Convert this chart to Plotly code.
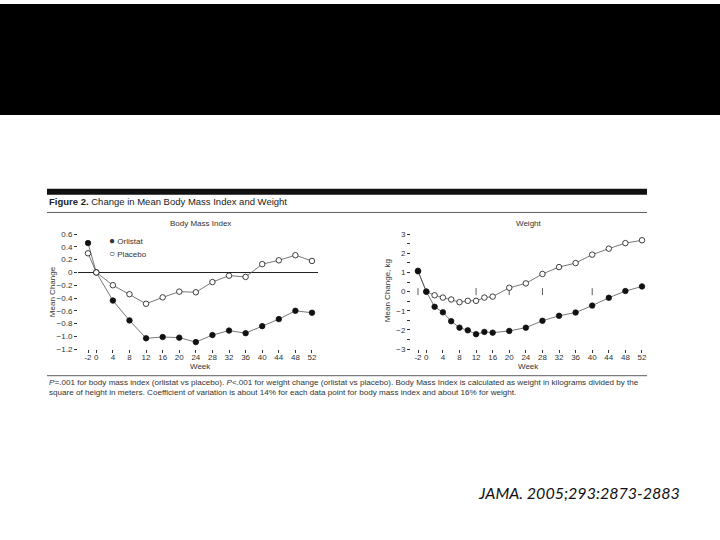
import plotly.graph_objects as go

# ---------------- data ----------------
bmi_weeks = [-2, 0, 4, 8, 12, 16, 20, 24, 28, 32, 36, 40, 44, 48, 52]
bmi_orlistat = [0.46, 0.0, -0.44, -0.75, -1.03, -1.01, -1.02, -1.09, -0.98, -0.91, -0.95, -0.84, -0.73, -0.60, -0.63]
bmi_placebo = [0.30, 0.0, -0.20, -0.34, -0.49, -0.39, -0.30, -0.31, -0.15, -0.05, -0.07, 0.13, 0.19, 0.27, 0.18]

wt_weeks = [-2, 0, 2, 4, 6, 8, 10, 12, 14, 16, 20, 24, 28, 32, 36, 40, 44, 48, 52]
wt_orlistat = [1.06, 0.0, -0.79, -1.08, -1.54, -1.88, -2.02, -2.22, -2.10, -2.14, -2.05, -1.88, -1.52, -1.26, -1.09, -0.73, -0.32, 0.03, 0.27]
wt_placebo = [1.09, 0.0, -0.19, -0.31, -0.41, -0.55, -0.48, -0.48, -0.31, -0.26, 0.20, 0.43, 0.92, 1.28, 1.49, 1.93, 2.24, 2.53, 2.68]
wt_zero_ticks = [-2, 12, 20, 28, 40]

x_tickvals = [-2, 0, 4, 8, 12, 16, 20, 24, 28, 32, 36, 40, 44, 48, 52]
x_ticktext = ["-2", "0", "4", "8", "12", "16", "20", "24", "28", "32", "36", "40", "44", "48", "52"]
bmi_tickvals = [0.6, 0.4, 0.2, 0, -0.2, -0.4, -0.6, -0.8, -1.0, -1.2]
bmi_ticktext = ["0.6", "0.4", "0.2", "0", "\u22120.2", "\u22120.4", "\u22120.6", "\u22120.8", "\u22121.0", "\u22121.2"]
wt_tickvals = [3, 2, 1, 0, -1, -2, -3]
wt_ticktext = ["3", "2", "1", "0", "\u22121", "\u22122", "\u22123"]
legend_labels = ["Orlistat", "Placebo"]

W, H = 720, 540
def px(p): return p / W
def py(p): return 1 - p / H

FONT = "Liberation Sans, Arial, sans-serif"
LINE_C = "#555555"
TXT_C = "#333333"

fig = go.Figure()

def add_series(x, y, filled, xa, ya, name):
    fig.add_trace(go.Scatter(
        x=x, y=y, mode="lines+markers", name=name, showlegend=False,
        xaxis=xa, yaxis=ya, cliponaxis=False,
        line=dict(color=LINE_C, width=0.8),
        marker=dict(size=5.5, symbol="circle",
                    color="#111111" if filled else "white",
                    line=dict(color="#111111", width=0.8)),
    ))

add_series(bmi_weeks, bmi_orlistat, True, "x", "y", legend_labels[0])
add_series(bmi_weeks, bmi_placebo, False, "x", "y", legend_labels[1])
fig.add_trace(go.Scatter(
    x=wt_zero_ticks, y=[0] * len(wt_zero_ticks), mode="markers", showlegend=False,
    xaxis="x2", yaxis="y2", hoverinfo="skip",
    marker=dict(symbol="line-ns", size=5, line=dict(color=TXT_C, width=0.8))))
add_series(wt_weeks, wt_placebo, False, "x2", "y2", legend_labels[1])
add_series(wt_weeks, wt_orlistat, True, "x2", "y2", legend_labels[0])

tickfont = dict(family=FONT, size=8, color=TXT_C)
common_x = dict(range=[-4.41, 53.45], tickvals=x_tickvals, ticktext=x_ticktext,
                showgrid=False, zeroline=False, showline=False, tickangle=0,
                ticks="outside", ticklen=3, tickwidth=0.8, tickcolor=TXT_C,
                ticklabelstandoff=-3,
                tickfont=tickfont, fixedrange=True)

fig.update_layout(
    width=W, height=H,
    margin=dict(l=0, r=0, t=0, b=0),
    paper_bgcolor="white", plot_bgcolor="rgba(0,0,0,0)",
    font=dict(family=FONT, color=TXT_C),
    showlegend=False,
    xaxis=dict(domain=[px(78), px(318)], anchor="y", **common_x),
    yaxis=dict(domain=[py(351), py(234)], range=[-1.2, 0.6], anchor="x",
               tickvals=bmi_tickvals, ticktext=bmi_ticktext,
               showgrid=False, showline=False,
               zeroline=True, zerolinecolor="#222222", zerolinewidth=1,
               ticks="outside", ticklen=3, tickwidth=0.8, tickcolor=TXT_C,
               tickfont=tickfont, fixedrange=True),
    xaxis2=dict(domain=[px(411), px(648)], anchor="y2", **{**common_x, "range": [-3.69, 53.45]}),
    yaxis2=dict(domain=[py(351), py(234)], range=[-3, 3], anchor="x2",
                tickvals=wt_tickvals, ticktext=wt_ticktext,
                showgrid=False, showline=False, zeroline=False,
                ticks="outside", ticklen=3, tickwidth=0.8, tickcolor=TXT_C,
                minor=dict(dtick=0.5, ticks="outside", ticklen=3, tickwidth=0.8, tickcolor=TXT_C),
                tickfont=tickfont, fixedrange=True),
)

shapes = [
    dict(type="rect", xref="paper", yref="paper", x0=0, x1=1, y0=py(113), y1=1,
         fillcolor="black", line=dict(width=0), layer="below"),
    dict(type="rect", xref="paper", yref="paper", x0=px(47), x1=px(647), y0=py(194), y1=py(188),
         fillcolor="#111111", line=dict(width=0)),
    dict(type="line", xref="paper", yref="paper", x0=px(47), x1=px(647), y0=py(212), y1=py(212),
         line=dict(color="#333333", width=0.8)),
    dict(type="line", xref="paper", yref="paper", x0=px(47), x1=px(647), y0=py(378), y1=py(378),
         line=dict(color="#333333", width=0.8)),
]
fig.update_layout(shapes=shapes)

def ann(text, x, y, size, xanchor="center", angle=0, color=TXT_C, family=FONT):
    fig.add_annotation(text=text, x=px(x), y=py(y), xref="paper", yref="paper",
                       xanchor=xanchor, yanchor="middle", showarrow=False, textangle=angle,
                       font=dict(family=family, size=size, color=color))

ann("<b>Figure 2.</b> Change in Mean Body Mass Index and Weight", 47, 201, 9.5, xanchor="left", color="#222222")
ann("Body Mass Index", 200, 223, 8)
ann("Weight", 529, 223, 8)
ann("Mean Change", 52, 292, 8, angle=-90)
ann("Mean Change, kg", 387, 292, 8, angle=-90)
ann("Week", 200, 369, 8)
ann("Week", 528, 369, 8)
# legend (drawn as text so it matches the compact original)
ann("<span style='font-size:10px'>\u25CF</span> " + legend_labels[0], 107, 241, 8, xanchor="left")
ann("<span style='font-size:10px'>\u25CB</span> " + legend_labels[1], 107, 254, 8, xanchor="left")
ann("<i>P</i>=.001 for body mass index (orlistat vs placebo). <i>P</i>&lt;.001 for weight change (orlistat vs placebo). "
    "Body Mass Index is calculated as weight in kilograms divided by the", 47, 385, 8.1, xanchor="left")
ann("square of height in meters. Coefficient of variation is about 14% for each data point for body mass index "
    "and about 16% for weight.", 47, 395, 8.1, xanchor="left")
ann("<i>JAMA. 2005;293:2873-2883</i>", 682, 497, 16, xanchor="right", color="#111111",
    family="Lato, Open Sans, sans-serif")

fig.write_html("out.html", config={"displayModeBar": False},
               post_script="document.body.style.margin='0';document.body.style.overflow='hidden';")
